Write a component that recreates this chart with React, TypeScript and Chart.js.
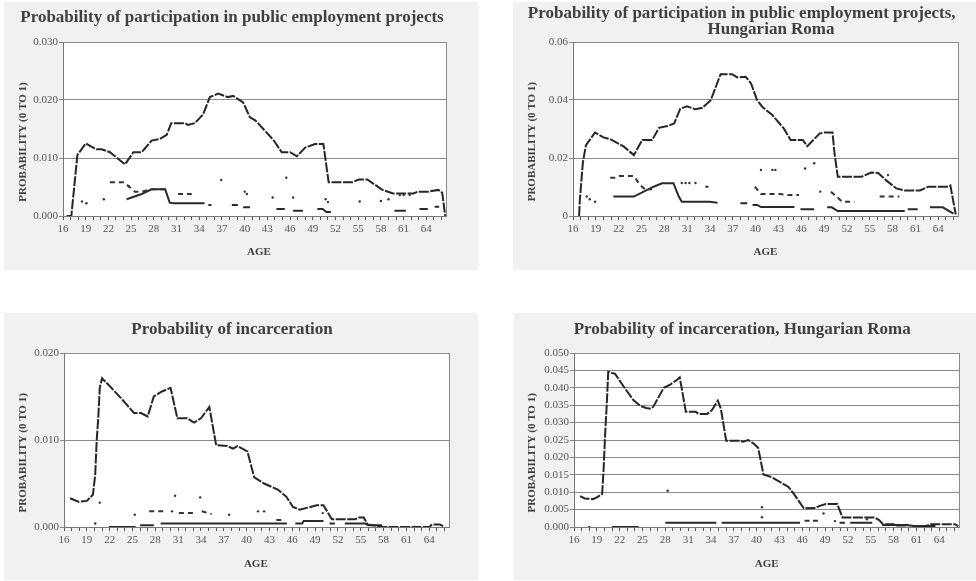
import React, { useEffect, useRef } from 'react';
import { Chart, registerables } from 'chart.js';

Chart.register(...registerables);

const xTickAges = [16, 17, 18, 19, 20, 21, 22, 23, 24, 25, 26, 27, 28, 29, 30, 31, 32, 33, 34, 35, 36, 37, 38, 39, 40, 41, 42, 43, 44, 45, 46, 47, 48, 49, 50, 51, 52, 53, 54, 55, 56, 57, 58, 59, 60, 61, 62, 63, 64, 65, 66];
const xTickLabels = ['16', '19', '22', '25', '28', '31', '34', '37', '40', '43', '46', '49', '52', '55', '58', '61', '64'];
const yTitle = 'PROBABILITY (0 TO 1)';
const xTitle = 'AGE';

// ---------- Panel 1: public employment projects ----------
const p1Title = ['Probability of participation in public employment projects'];
const p1YTicks = [0, 0.01, 0.02, 0.03];
const p1YLabels = ['0.000', '0.010', '0.020', '0.030'];
const p1MainAge = [16.5, 17.1, 17.9, 19.0, 20.4, 21.1, 22.2, 24.2, 25.3, 26.4, 27.7, 28.8, 29.7, 30.3, 32.1, 32.5, 33.4, 34.5, 35.4, 36.5, 37.8, 38.5, 39.8, 40.7, 41.4, 43.8, 44.9, 46.0, 46.9, 48.0, 49.3, 50.4, 51.1, 54.2, 55.1, 56.2, 58.2, 59.6, 62.3, 62.9, 64.3, 65.6, 66.1, 66.5];
const p1MainVal = [0, 0, 0.0105, 0.0125, 0.0115, 0.0115, 0.011, 0.0089, 0.011, 0.011, 0.013, 0.0133, 0.014, 0.016, 0.016, 0.0157, 0.016, 0.0175, 0.0205, 0.0211, 0.0205, 0.0207, 0.0196, 0.017, 0.0165, 0.0131, 0.011, 0.011, 0.0103, 0.0118, 0.0124, 0.0124, 0.0058, 0.0058, 0.0063, 0.0063, 0.0045, 0.0039, 0.0039, 0.0042, 0.0042, 0.0045, 0.004, 0];
const p1DashAge = [22.2, 24.1, 24.7, 25.5, 26.4, 27.7, 29.5, 29.5, 31.2, 33.0];
const p1DashVal = [0.0058, 0.0058, 0.0051, 0.0042, 0.0042, 0.0046, 0.0046, null, 0.0038, 0.0038];
const p1LowAge = [24.4, 26.4, 27.7, 29.5, 30.1, 30.6, 34.7, 34.7, 35.2, 35.6, 35.6, 38.3, 39.1, 39.1, 39.8, 40.7, 40.7, 44.2, 45.3, 45.3, 46.4, 47.7, 47.7, 49.6, 50.3, 50.8, 51.4, 51.4, 59.8, 61.3, 61.3, 63.1, 64.2, 64.2, 65.1, 65.7];
const p1LowVal = [0.0029, 0.0038, 0.0046, 0.0046, 0.0023, 0.0022, 0.0022, null, 0.0019, 0.0019, null, 0.0019, 0.0019, null, 0.0015, 0.0015, null, 0.0012, 0.0012, null, 0.0009, 0.0009, null, 0.0012, 0.0012, 0.0007, 0.0007, null, 0.0009, 0.0009, null, 0.0012, 0.0012, null, 0.0016, 0.0016];
const p1DotAge = [18.5, 19.1, 21.4, 24.7, 36.9, 40.0, 40.3, 43.7, 45.5, 46.4, 50.7, 51.0, 55.2, 58.0, 59.0, 60.5, 61.0, 61.8];
const p1DotVal = [0.0025, 0.0022, 0.0029, 0.0051, 0.0062, 0.0042, 0.0038, 0.0032, 0.0066, 0.0032, 0.0029, 0.0024, 0.0025, 0.0026, 0.0029, 0.0036, 0.0036, 0.0036];

// ---------- Panel 2: public employment projects, Hungarian Roma ----------
const p2Title = ['Probability of participation in public employment projects,', 'Hungarian Roma'];
const p2YTicks = [0, 0.02, 0.04, 0.06];
const p2YLabels = ['0', '0.02', '0.04', '0.06'];
const p2MainAge = [16.8, 16.9, 17.3, 17.7, 18.9, 20.0, 20.9, 22.7, 24.0, 25.1, 26.4, 27.3, 28.4, 29.3, 30.1, 31.0, 32.1, 33.0, 34.1, 35.4, 36.9, 37.6, 38.7, 39.4, 40.2, 40.9, 42.2, 43.7, 44.6, 46.2, 46.8, 48.4, 49.0, 50.1, 50.4, 50.8, 53.9, 55.2, 56.1, 57.2, 58.5, 59.6, 61.6, 62.7, 65.3, 65.6, 66.3];
const p2MainVal = [0, 0.0055, 0.0185, 0.0244, 0.0288, 0.0271, 0.0265, 0.0239, 0.021, 0.0262, 0.0262, 0.0304, 0.031, 0.0319, 0.037, 0.0378, 0.0368, 0.0373, 0.0399, 0.0489, 0.0489, 0.0478, 0.048, 0.0457, 0.0399, 0.0376, 0.0348, 0.0302, 0.0262, 0.0262, 0.0241, 0.0284, 0.0288, 0.0288, 0.021, 0.0135, 0.0135, 0.015, 0.0148, 0.0122, 0.0095, 0.0088, 0.0088, 0.0101, 0.0101, 0.0105, 0.0005];
const p2DashAge = [20.9, 21.5, 22.1, 24.0, 24.8, 25.5, 26.4, 26.4, 33.4, 33.8, 33.8, 39.9, 40.7, 43.2, 44.4, 45.7, 45.7, 49.9, 51.4, 53.0, 53.0, 56.3, 58.9];
const p2DashVal = [0.0132, 0.0132, 0.0138, 0.0138, 0.0107, 0.0092, 0.0092, null, 0.0101, 0.0101, null, 0.0101, 0.0076, 0.0076, 0.0072, 0.0072, null, 0.0084, 0.0049, 0.0049, null, 0.0067, 0.0067];
const p2LowAge = [21.3, 24.0, 26.6, 27.7, 29.2, 29.9, 30.3, 33.9, 35.0, 35.0, 38.0, 38.9, 38.9, 39.6, 40.2, 40.7, 45.1, 45.1, 45.9, 47.7, 47.7, 49.4, 50.0, 50.8, 59.6, 59.6, 60.0, 61.3, 61.3, 62.9, 64.6, 66.0];
const p2LowVal = [0.0067, 0.0067, 0.0101, 0.0113, 0.0113, 0.0067, 0.0049, 0.0049, 0.0046, null, 0.0044, 0.0044, null, 0.0038, 0.0038, 0.0031, 0.0031, null, 0.0023, 0.0023, null, 0.003, 0.003, 0.0017, 0.0017, null, 0.0023, 0.0023, null, 0.003, 0.003, 0.0008];
const p2DotAge = [17.8, 18.2, 18.9, 30.3, 30.8, 31.3, 32.1, 40.7, 42.2, 42.6, 46.5, 47.7, 48.5, 57.4];
const p2DotVal = [0.0067, 0.0058, 0.0049, 0.0114, 0.0114, 0.0114, 0.0114, 0.0159, 0.0159, 0.0159, 0.0164, 0.0182, 0.0084, 0.0141];

// ---------- Panel 3: incarceration ----------
const p3Title = ['Probability of incarceration'];
const p3YTicks = [0, 0.01, 0.02];
const p3YLabels = ['0.000', '0.010', '0.020'];
const p3MainAge = [16.8, 17.9, 19.0, 19.8, 20.1, 20.3, 20.5, 20.7, 21.0, 22.1, 23.4, 24.3, 25.2, 26.1, 27.0, 27.8, 28.7, 30.0, 30.9, 32.2, 33.1, 34.0, 35.1, 36.0, 37.5, 38.2, 38.8, 40.1, 41.0, 42.3, 44.1, 45.2, 46.1, 47.0, 47.9, 49.2, 50.1, 51.2, 54.3, 54.8, 55.4, 55.9, 56.6, 57.9, 64.0, 64.4, 65.4, 66.0];
const p3MainVal = [0.0033, 0.0029, 0.003, 0.0037, 0.006, 0.01, 0.0125, 0.016, 0.0171, 0.0161, 0.0149, 0.014, 0.0131, 0.0131, 0.0127, 0.015, 0.0155, 0.016, 0.0125, 0.0125, 0.012, 0.0125, 0.0138, 0.0094, 0.0093, 0.009, 0.0093, 0.0087, 0.0057, 0.005, 0.0043, 0.0035, 0.0023, 0.002, 0.0022, 0.0025, 0.0025, 0.0009, 0.0009, 0.0011, 0.0011, 0.0003, 0.0002, 0, 0, 0.0003, 0.0003, 0];
const p3DashAge = [27.2, 29.1, 29.1, 31.1, 33.1, 33.1, 34.1, 35.4, 35.4, 43.9, 44.6];
const p3DashVal = [0.0018, 0.0018, null, 0.0016, 0.0016, null, 0.0018, 0.0015, null, 0.0008, 0.0008];
const p3LowAge = [21.9, 25.4, 25.4, 26.0, 27.8, 27.8, 28.7, 45.3, 45.3, 46.4, 47.3, 47.5, 50.1, 50.1, 50.9, 51.6, 51.6, 52.9, 55.6, 56.0, 57.8];
const p3LowVal = [0, 0, null, 0.0002, 0.0002, null, 0.0004, 0.0004, null, 0.0004, 0.0004, 0.0007, 0.0007, null, 0.0004, 0.0004, null, 0.0004, 0.0004, 0.0002, 0.0002];
const p3DotAge = [20.1, 20.7, 25.3, 30.2, 30.6, 33.9, 37.7, 41.5, 42.3, 50.0];
const p3DotVal = [0.0004, 0.0028, 0.0014, 0.0018, 0.0036, 0.0034, 0.0014, 0.0018, 0.0018, 0.0016];

// ---------- Panel 4: incarceration, Hungarian Roma ----------
const p4Title = ['Probability of incarceration, Hungarian Roma'];
const p4YTicks = [0, 0.005, 0.01, 0.015, 0.02, 0.025, 0.03, 0.035, 0.04, 0.045, 0.05];
const p4YLabels = ['0.000', '0.005', '0.010', '0.015', '0.020', '0.025', '0.030', '0.035', '0.040', '0.045', '0.050'];
const p4MainAge = [16.8, 17.4, 18.5, 19.0, 19.7, 19.9, 20.1, 20.3, 20.5, 21.4, 22.7, 23.8, 24.7, 25.5, 26.1, 26.4, 27.8, 28.7, 29.6, 29.9, 30.7, 32.0, 32.4, 33.5, 34.1, 34.9, 35.3, 36.0, 37.8, 38.2, 38.9, 39.6, 40.2, 40.9, 42.0, 43.1, 44.2, 44.9, 46.2, 47.8, 48.2, 49.1, 50.6, 51.3, 55.5, 56.1, 56.6, 58.0, 58.5, 60.2, 60.9, 62.2, 62.9, 66.1, 66.5];
const p4MainVal = [0.0089, 0.0082, 0.008, 0.0085, 0.0095, 0.017, 0.027, 0.035, 0.0446, 0.044, 0.0398, 0.0365, 0.0348, 0.0342, 0.034, 0.0345, 0.04, 0.041, 0.0424, 0.043, 0.0331, 0.0331, 0.0325, 0.0325, 0.0335, 0.0363, 0.034, 0.0248, 0.0248, 0.0245, 0.025, 0.024, 0.0228, 0.0151, 0.0143, 0.0129, 0.0115, 0.0095, 0.0054, 0.0055, 0.006, 0.0066, 0.0066, 0.0027, 0.0027, 0.002, 0.0008, 0.0008, 0.0004, 0.0004, 0.0002, 0.0002, 0.0008, 0.0008, 0.0002];
const p4DashAge = [46.3, 47.0, 47.0, 47.4, 48.3];
const p4DashVal = [0.0018, 0.0018, null, 0.0018, 0.0018];
const p4LowAge = [21.0, 24.5, 24.5, 28.0, 34.7, 34.7, 35.4, 45.7, 45.7, 50.9, 51.6, 51.6, 52.3, 55.2, 55.2, 56.5, 60.0, 60.0, 60.9, 63.5];
const p4LowVal = [0, 0, null, 0.0012, 0.0012, null, 0.0012, 0.0012, null, 0.0012, 0.0012, null, 0.0012, 0.0012, null, 0.0006, 0.0006, null, 0.0003, 0.0003];
const p4DotAge = [18.0, 28.3, 40.7, 40.7, 48.8, 50.3, 54.5];
const p4DotVal = [0, 0.0104, 0.0057, 0.0028, 0.0039, 0.0017, 0.0022];

type Series = [number[], (number | null)[]];
type PanelCfg = {
  title: string[];
  titlePos: [number, number][];
  yTitlePos: [number, number];
  xTitlePos: [number, number];
  yTicks: number[];
  yLabels: string[];
  main: Series;
  dash: Series;
  low: Series;
  dots: Series;
  box: { left: number; top: number; width: number; height: number };
  plot: { l: number; r: number; t: number; b: number };
};

const panels: PanelCfg[] = [
  {
    title: p1Title, titlePos: [[228, 15.5]], yTitlePos: [18.7, 140], xTitlePos: [255, 250],
    yTicks: p1YTicks, yLabels: p1YLabels,
    main: [p1MainAge, p1MainVal], dash: [p1DashAge, p1DashVal], low: [p1LowAge, p1LowVal], dots: [p1DotAge, p1DotVal],
    box: { left: 4, top: 2, width: 474, height: 268 }, plot: { l: 59, r: 442, t: 40, b: 214 },
  },
  {
    title: p2Title, titlePos: [[228.7, 11.3], [258, 27.3]], yTitlePos: [18.7, 139.7], xTitlePos: [252.5, 250.3],
    yTicks: p2YTicks, yLabels: p2YLabels,
    main: [p2MainAge, p2MainVal], dash: [p2DashAge, p2DashVal], low: [p2LowAge, p2LowVal], dots: [p2DotAge, p2DotVal],
    box: { left: 513, top: 2, width: 463, height: 268 }, plot: { l: 60, r: 445, t: 40, b: 214 },
  },
  {
    title: p3Title, titlePos: [[228, 16.3]], yTitlePos: [18.7, 139.8], xTitlePos: [251.8, 251],
    yTicks: p3YTicks, yLabels: p3YLabels,
    main: [p3MainAge, p3MainVal], dash: [p3DashAge, p3DashVal], low: [p3LowAge, p3LowVal], dots: [p3DotAge, p3DotVal],
    box: { left: 4, top: 313, width: 474, height: 267 }, plot: { l: 60, r: 445, t: 40, b: 214 },
  },
  {
    title: p4Title, titlePos: [[228.2, 16.3]], yTitlePos: [17.7, 139.8], xTitlePos: [252.7, 251],
    yTicks: p4YTicks, yLabels: p4YLabels,
    main: [p4MainAge, p4MainVal], dash: [p4DashAge, p4DashVal], low: [p4LowAge, p4LowVal], dots: [p4DotAge, p4DotVal],
    box: { left: 514, top: 313, width: 462, height: 267 }, plot: { l: 60, r: 445, t: 40, b: 214 },
  },
];

const SERIF = '"Liberation Serif", "Times New Roman", serif';
const TEXT = '#404040';

function Panel({ cfg }: { cfg: PanelCfg }) {
  const ref = useRef<HTMLCanvasElement>(null);
  useEffect(() => {
    const pts = (s: Series) => s[0].map((x, i) => ({ x, y: s[1][i] }));
    const deco = {
      id: 'deco',
      beforeDraw(chart: any) {
        const { ctx, chartArea: a, width, height } = chart;
        ctx.save();
        ctx.fillStyle = '#f0f1f3';
        ctx.fillRect(0, 0, width, height);
        ctx.fillStyle = '#ffffff';
        ctx.fillRect(a.left, a.top, a.right - a.left, a.bottom - a.top);
        ctx.restore();
      },
      afterDraw(chart: any) {
        const { ctx, chartArea: a } = chart;
        ctx.save();
        ctx.strokeStyle = '#8a8a8a';
        ctx.lineWidth = 1;
        ctx.beginPath();
        ctx.moveTo(Math.round(a.right) + 0.5, a.top);
        ctx.lineTo(Math.round(a.right) + 0.5, a.bottom);
        ctx.stroke();
        ctx.fillStyle = TEXT;
        ctx.textAlign = 'center';
        ctx.textBaseline = 'middle';
        ctx.font = 'bold 17px ' + SERIF;
        cfg.title.forEach((t, i) => ctx.fillText(t, cfg.titlePos[i][0], cfg.titlePos[i][1]));
        ctx.font = 'bold 11px ' + SERIF;
        ctx.fillText(xTitle, cfg.xTitlePos[0], cfg.xTitlePos[1]);
        ctx.translate(cfg.yTitlePos[0], cfg.yTitlePos[1]);
        ctx.rotate(-Math.PI / 2);
        ctx.fillText(yTitle, 0, 0);
        ctx.restore();
      },
    };
    const tickFont = { family: SERIF, size: 11 };
    const chart = new Chart(ref.current as HTMLCanvasElement, {
      type: 'line',
      data: {
        datasets: [
          { data: pts(cfg.main), borderColor: '#262626', borderWidth: 2, borderDash: [10, 1.5], pointRadius: 0, tension: 0 },
          { data: pts(cfg.dash), borderColor: '#333333', borderWidth: 2, borderDash: [5, 4], pointRadius: 0, tension: 0 },
          { data: pts(cfg.low), borderColor: '#2a2a2a', borderWidth: 2, pointRadius: 0, tension: 0 },
          { data: pts(cfg.dots), showLine: false, pointRadius: 1.2, pointBackgroundColor: '#333333', pointBorderWidth: 0 },
        ] as any,
      },
      options: {
        responsive: false,
        animation: false,
        events: [],
        layout: { padding: { top: cfg.plot.t, left: 0, right: cfg.box.width - cfg.plot.r, bottom: 0 } },
        plugins: { legend: { display: false }, tooltip: { enabled: false }, title: { display: false } },
        scales: {
          x: {
            type: 'linear', min: 16, max: 66.6,
            afterBuildTicks: (s: any) => { s.ticks = xTickAges.map((v) => ({ value: v })); },
            afterFit: (s: any) => { s.height = cfg.box.height - cfg.plot.b; },
            grid: { drawOnChartArea: false, tickLength: 4, color: '#555555' },
            border: { color: '#777777' },
            ticks: {
              autoSkip: false, maxRotation: 0, minRotation: 0, padding: 3, color: '#555555', font: tickFont,
              callback: (v: any) => (xTickLabels.includes(String(v)) ? String(v) : ''),
            },
          },
          y: {
            type: 'linear', min: 0, max: cfg.yTicks[cfg.yTicks.length - 1],
            afterBuildTicks: (s: any) => { s.ticks = cfg.yTicks.map((v) => ({ value: v })); },
            afterFit: (s: any) => { s.width = cfg.plot.l; },
            grid: { color: '#8a8a8a', tickLength: 4 },
            border: { color: '#777777' },
            ticks: { padding: 1, color: '#555555', font: tickFont, callback: (_v: any, i: number) => cfg.yLabels[i] },
          },
        },
      } as any,
      plugins: [deco],
    });
    return () => chart.destroy();
  }, [cfg]);
  return (
    <canvas
      ref={ref}
      width={cfg.box.width}
      height={cfg.box.height}
      style={{ position: 'absolute', left: cfg.box.left, top: cfg.box.top, width: cfg.box.width, height: cfg.box.height }}
    />
  );
}

export default function App() {
  return (
    <div style={{ position: 'fixed', left: 0, top: 0, width: 976, height: 581, background: '#ffffff', overflow: 'hidden' }}>
      {panels.map((p, i) => (
        <Panel key={i} cfg={p} />
      ))}
    </div>
  );
}
